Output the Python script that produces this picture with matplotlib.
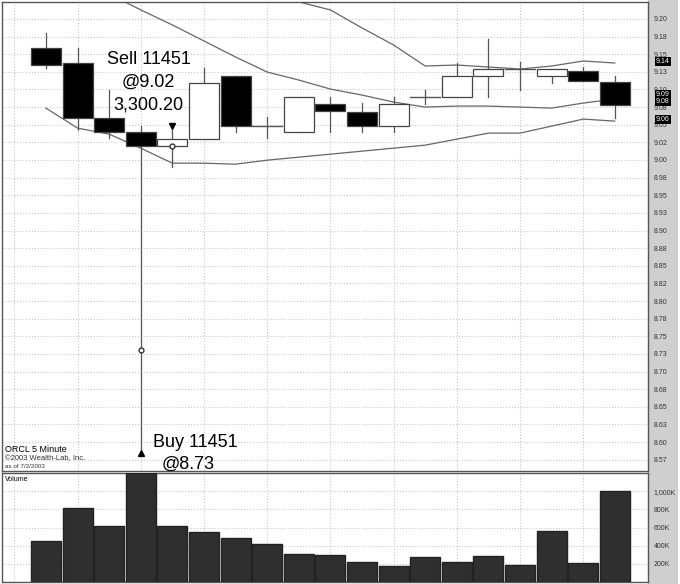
import matplotlib
matplotlib.use("Agg")
import matplotlib.pyplot as plt
from matplotlib.patches import Rectangle
import numpy as np

plt.rcParams['font.family'] = ['Liberation Sans', 'DejaVu Sans']

opens  = [9.159, 9.137, 9.059, 9.039, 9.020, 9.030, 9.119, 9.048, 9.039, 9.079, 9.068, 9.048, 9.089, 9.089, 9.119, 9.129, 9.119, 9.126, 9.111]
closes = [9.135, 9.059, 9.039, 9.020, 9.030, 9.109, 9.048, 9.048, 9.089, 9.069, 9.048, 9.079, 9.089, 9.119, 9.129, 9.129, 9.129, 9.112, 9.078]
highs  = [9.180, 9.159, 9.099, 9.048, 9.042, 9.130, 9.119, 9.061, 9.089, 9.089, 9.081, 9.089, 9.099, 9.137, 9.172, 9.139, 9.129, 9.132, 9.119]
lows   = [9.130, 9.042, 9.031, 8.590, 8.990, 9.030, 9.039, 9.031, 9.039, 9.039, 9.039, 9.039, 9.079, 9.089, 9.089, 9.099, 9.109, 9.112, 9.059]
volume_k = [455, 815, 622, 1200, 615, 552, 481, 422, 304, 296, 215, 181, 270, 222, 285, 189, 559, 211, 1007]

upper_px = [-60, -55, -50, -45, -40, -30, -20, -8, 2, 10, 28, 45, 66, 65, 67, 69, 66, 61, 63]
middle_px = [-37, -21, -6, 10, 25, 41, 57, 72, 80, 89, 95, 102, 107, 106, 106, 107, 108, 103, 99]
lower_px = [108, 128, 134, 148, 163, 163, 164, 160, 157, 154, 151, 148, 145, 139, 133, 133, 126, 119, 121]
to_price = lambda p: [9.20 - (v - 19) / 704 for v in p]
upper = to_price(upper_px); middle = to_price(middle_px); lower = to_price(lower_px)

tick_vals = [9.20 - 0.025 * i for i in range(26)]
tick_labels = ['9.20','9.18','9.15','9.13','9.10','9.08','9.05','9.02','9.00','8.98','8.95','8.93',
               '8.90','8.88','8.85','8.82','8.80','8.78','8.75','8.73','8.70','8.68','8.65','8.63','8.60','8.57']
vol_ticks = [200, 400, 600, 800, 1000]
vol_labels = ['200K', '400K', '600K', '800K', '1,000K']
last_vals = [9.14, 9.09, 9.08, 9.06]
last_labels = ['9.14', '9.09', '9.08', '9.06']
last_pos = [9.140, 9.093, 9.083, 9.057]

W, H = 680, 584
fig = plt.figure(figsize=(6.8, 5.84), dpi=100)
fig.patch.set_facecolor('white')

def ax_rect(x0, y0, x1, y1):
    return [x0 / W, 1 - y1 / H, (x1 - x0) / W, (y1 - y0) / H]

bg = fig.add_axes(ax_rect(648, 0, 678, 584), zorder=-10)
bg.set_facecolor('#cfcfcf')
bg.set_xticks([]); bg.set_yticks([])
for s in bg.spines.values():
    s.set_visible(False)

ax = fig.add_axes(ax_rect(2, 2, 648, 471))
axv = fig.add_axes(ax_rect(2, 473, 648, 582))
n = len(opens)
x = np.arange(n)
xl = (-1.39, 19.05)

for a in (ax, axv):
    a.set_xlim(*xl)
    a.set_facecolor('white')
    for s in ['top', 'bottom', 'left', 'right']:
        a.spines[s].set_color('#555555')
        a.spines[s].set_linewidth(1)
    a.set_xticks([-1, 1, 3, 5, 7, 9, 11, 13, 15, 17])
    a.tick_params(axis='x', length=0, labelbottom=False)
    a.grid(True, color='#c8c8c8', linestyle=':', linewidth=0.8)
    a.yaxis.tick_right()
    a.tick_params(axis='y', length=0, labelsize=5, pad=4, colors='#333333')

ax.set_ylim(8.559, 9.224)
ax.set_yticks(tick_vals)
ax.set_yticklabels(tick_labels)

for lv in (upper, middle, lower):
    ax.plot(x, lv, color='#666666', lw=0.9, zorder=2)

w = 0.95
for i in range(n):
    o, c, h, l = opens[i], closes[i], highs[i], lows[i]
    ax.plot([i, i], [l, h], color='#555555', lw=0.9, zorder=3)
    bot, top = min(o, c), max(o, c)
    if abs(c - o) < 1e-4:
        ax.plot([i - w / 2, i + w / 2], [o, o], color='#555555', lw=1, zorder=4)
    else:
        fc = 'black' if c < o else 'white'
        ax.add_patch(Rectangle((i - w / 2, bot), w, top - bot, facecolor=fc,
                               edgecolor='#444444', lw=0.9, zorder=4))

ax.plot(4, 9.048, marker='v', color='black', ms=4, zorder=6)
ax.plot(4, 9.02, marker='o', mfc='white', mec='#333333', ms=3.5, zorder=6)
ax.plot(3, 8.584, marker='^', color='black', ms=4, zorder=6)
ax.plot(3, 8.731, marker='o', mfc='white', mec='#333333', ms=3.5, zorder=6)

ax.text(3.25, 9.142, 'Sell 11451', ha='center', va='center', fontsize=13)
ax.text(3.25, 9.110, '@9.02', ha='center', va='center', fontsize=13)
ax.text(3.25, 9.078, '3,300.20', ha='center', va='center', fontsize=13)
ax.text(3.4, 8.600, 'Buy 11451', ha='left', va='center', fontsize=13)
ax.text(4.5, 8.569, '@8.73', ha='center', va='center', fontsize=13)

ax.text(-1.3, 8.590, 'ORCL 5 Minute', fontsize=6.5, va='center')
ax.text(-1.3, 8.576, '©2003 Wealth-Lab, Inc.', fontsize=5.5, va='center', color='#333333')
ax.text(-1.3, 8.565, 'as of 7/2/2003', fontsize=4.5, va='center', color='#333333')

for pos, lab in zip(last_pos, last_labels):
    ax.text(19.3, pos, lab, fontsize=5, color='white', va='center', ha='left', zorder=10,
            bbox=dict(boxstyle='square,pad=0.15', fc='black', ec='none'), clip_on=False)

axv.bar(x, volume_k, width=w, color='#2f2f2f', edgecolor='#222222', zorder=3)
axv.set_ylim(0, 1200)
axv.set_yticks(vol_ticks)
axv.set_yticklabels(vol_labels)
axv.text(-1.3, 1130, 'Volume', fontsize=5, va='center')

fig.savefig('out.png', dpi=100)
